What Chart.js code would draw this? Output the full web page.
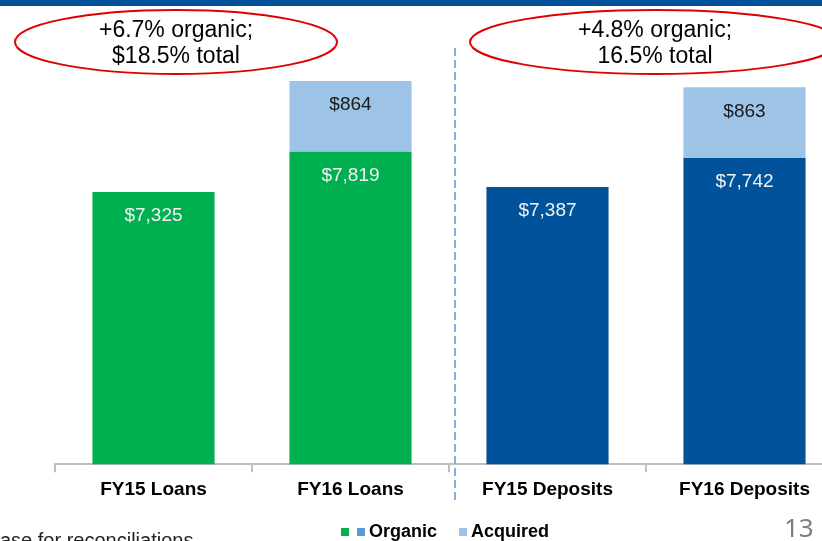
<!DOCTYPE html>
<html>
<head>
<meta charset="utf-8">
<script src="https://cdn.jsdelivr.net/npm/chart.js@4.4.1/dist/chart.umd.min.js"></script>
<style>
  html, body { margin: 0; padding: 0; overflow: hidden; background: #fff; }
  #wrap { position: absolute; left: 0; top: 0; width: 850px; height: 541px; }
</style>
</head>
<body>
<div id="wrap"><canvas id="myChart" width="850" height="541"></canvas></div>
<script>
/* data */
const categories = ['FY15 Loans', 'FY16 Loans', 'FY15 Deposits', 'FY16 Deposits'];
const loansOrganic = [7325, 7819, null, null];
const depositsOrganic = [null, null, 7387, 7742];
const acquired = [null, 864, null, 863];
const callouts = [['+6.7% organic;', '$18.5% total'], ['+4.8% organic;', '16.5% total']];
const legendLabels = ['Organic', 'Acquired'];

const GREEN = '#00B050', BLUE = '#00539B', LIGHT = '#9DC3E6', MID = '#5B9BD5';
const FONT = '"Liberation Sans", Arial, sans-serif';

function draw_labels(chart){
  const ctx = chart.ctx;
  ctx.save();
  ctx.font = '19px ' + FONT;
  ctx.textAlign = 'center';
  ctx.textBaseline = 'middle';
  chart.data.datasets.forEach((ds, i) => {
    chart.getDatasetMeta(i).data.forEach((bar, j) => {
      const v = ds.data[j];
      if (v == null) return;
      ctx.fillStyle = ds.labelColor;
      ctx.fillText('$' + v.toLocaleString('en-US'), bar.x, bar.y + 24);
    });
  });
  ctx.restore();
}

function draw_extras(chart){
  const ctx = chart.ctx;
  const x = chart.scales.x;
  ctx.save();

  // header strip
  ctx.fillStyle = BLUE;
  ctx.fillRect(0, 0, chart.width, 6);

  // dashed divider between loans and deposits
  const xd = (x.getPixelForValue(1) + x.getPixelForValue(2)) / 2 + 6;
  ctx.strokeStyle = '#7FB0E0';
  ctx.lineWidth = 2;
  ctx.setLineDash([8, 4]);
  ctx.beginPath();
  ctx.moveTo(xd, 48);
  ctx.lineTo(xd, 500);
  ctx.stroke();
  ctx.setLineDash([]);

  // callout ellipses
  const ell = [[176, 42, 161, 32], [655, 42, 185, 32]];
  ctx.font = '23px ' + FONT;
  ctx.textAlign = 'center';
  ctx.textBaseline = 'middle';
  ell.forEach((e, i) => {
    ctx.strokeStyle = '#E00000';
    ctx.lineWidth = 2;
    ctx.beginPath();
    ctx.ellipse(e[0], e[1], e[2], e[3], 0, 0, Math.PI * 2);
    ctx.stroke();
    ctx.fillStyle = '#000';
    ctx.fillText(callouts[i][0], e[0], 31);
    ctx.fillText(callouts[i][1], e[0], 57);
  });

  // legend
  ctx.font = 'bold 18px ' + FONT;
  ctx.textAlign = 'left';
  ctx.fillStyle = GREEN; ctx.fillRect(341, 528, 8, 8);
  ctx.fillStyle = MID; ctx.fillRect(357, 528, 8, 8);
  ctx.fillStyle = '#000'; ctx.fillText(legendLabels[0], 369, 532);
  ctx.fillStyle = LIGHT; ctx.fillRect(459, 528, 8, 8);
  ctx.fillStyle = '#000'; ctx.fillText(legendLabels[1], 471, 532);

  // footnote + page number
  ctx.font = '20px ' + FONT;
  ctx.textBaseline = 'alphabetic';
  ctx.fillStyle = '#222';
  ctx.fillText('ase for reconciliations', 0, 547);
  ctx.font = '26px "Noto Sans", sans-serif';
  ctx.fillStyle = '#7F7F7F';
  ctx.fillText('13', 784, 537);
  ctx.restore();
}

const ctx = document.getElementById('myChart');
const myChart = new Chart(ctx, {
  type: 'bar',
  plugins: [{ afterDatasetsDraw: draw_labels, afterDraw: draw_extras }],
  data: {
    labels: categories,
    datasets: [
      { label: 'Organic', data: loansOrganic, backgroundColor: GREEN, labelColor: '#F2F2F2' },
      { label: 'Organic', data: depositsOrganic, backgroundColor: BLUE, labelColor: '#F2F2F2' },
      { label: 'Acquired', data: acquired, backgroundColor: LIGHT, labelColor: '#1A1A1A' }
    ]
  },
  options: {
    responsive: false,
    animation: false,
    events: [],
    categoryPercentage: 1,
    barPercentage: 0.62,
    layout: { padding: { left: 55, right: 7, top: 55, bottom: 34 } },
    plugins: { legend: { display: false }, tooltip: { enabled: false } },
    scales: {
      x: {
        stacked: true,
        grid: { display: true, drawOnChartArea: false, tickLength: 8, color: '#BFBFBF', lineWidth: 2 },
        border: { display: true, color: '#BFBFBF', width: 2 },
        ticks: { color: '#000', padding: 6, font: { family: FONT, size: 19, weight: 'bold' } }
      },
      y: { stacked: true, min: 4000, max: 9000, display: false }
    }
  }
});
</script>
</body>
</html>
